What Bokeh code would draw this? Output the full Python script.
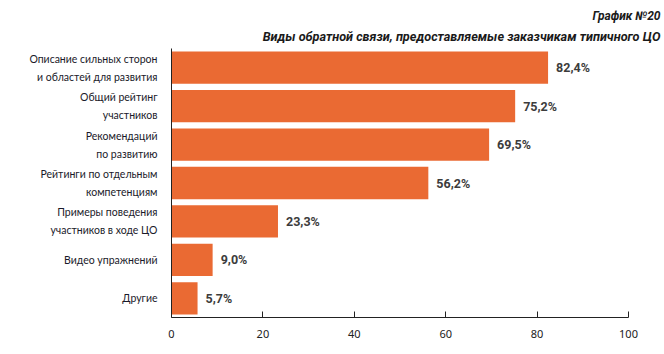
from bokeh.plotting import figure
from bokeh.models import ColumnDataSource, FactorRange, Range1d, Title, FixedTicker
from bokeh.core.properties import value
from bokeh.embed import file_html
from bokeh.resources import INLINE

categories = [
    "Описание сильных сторон\nи областей для развития",
    "Общий рейтинг\nучастников",
    "Рекомендаций\nпо развитию",
    "Рейтинги по отдельным\nкомпетенциям",
    "Примеры поведения\nучастников в ходе ЦО",
    "Видео упражнений",
    "Другие",
]
values = [82.4, 75.2, 69.5, 56.2, 23.3, 9.0, 5.7]
value_labels = ["82,4%", "75,2%", "69,5%", "56,2%", "23,3%", "9,0%", "5,7%"]
x_ticks = [0, 20, 40, 60, 80, 100]
title_1 = "График №20"
title_2 = "Виды обратной связи, предоставляемые заказчикам типичного ЦО"

source = ColumnDataSource(dict(cat=categories, val=values, lab=value_labels))

p = figure(
    width=664, height=354,
    y_range=FactorRange(factors=list(reversed(categories))),
    x_range=Range1d(0, 100),
    output_backend="svg", toolbar_location=None,
    min_border_left=171, min_border_right=36, min_border_top=48, min_border_bottom=37,
)
p.outline_line_color = None
p.xgrid.grid_line_color = None
p.ygrid.grid_line_color = None
p.background_fill_color = "white"
p.border_fill_color = "white"

p.hbar(y="cat", left=0, right="val", height=0.84, source=source,
       fill_color="#EA6A33", line_color=None)

p.text(x="val", y="cat", text="lab", source=source, x_offset=8,
       text_baseline="middle", text_align="left",
       text_font=value("Roboto"), text_font_style="bold",
       text_font_size="12.5px", text_color="#3c3c3c")

xa = p.xaxis[0]
xa.ticker = FixedTicker(ticks=x_ticks)
xa.major_tick_in = 6
xa.major_tick_out = 0
xa.minor_tick_line_color = None
xa.axis_line_color = "#222222"
xa.major_tick_line_color = "#222222"
xa.major_label_text_font = "Noto Sans"
xa.major_label_text_font_size = "11px"
xa.major_label_text_color = "#222222"
xa.major_label_standoff = 12

ya = p.yaxis[0]
ya.major_tick_line_color = None
ya.minor_tick_line_color = None
ya.axis_line_color = "#222222"
ya.major_label_text_font = "Lato"
ya.major_label_text_font_size = "10.5px"
ya.major_label_text_line_height = 1.5
ya.major_label_text_color = "#1a1a2a"
ya.major_label_standoff = 8

t2 = Title(text=title_2, align="right", offset=-32, standoff=9,
           text_font="Roboto", text_font_style="bold italic",
           text_font_size="12.7px", text_color="#1a1a1a")
t1 = Title(text=title_1, align="right", offset=-32, standoff=0,
           text_font="Roboto", text_font_style="bold italic",
           text_font_size="12px", text_color="#1a1a1a")
p.add_layout(t2, "above")
p.add_layout(t1, "above")

open("out.html", "w").write(file_html(p, INLINE))
